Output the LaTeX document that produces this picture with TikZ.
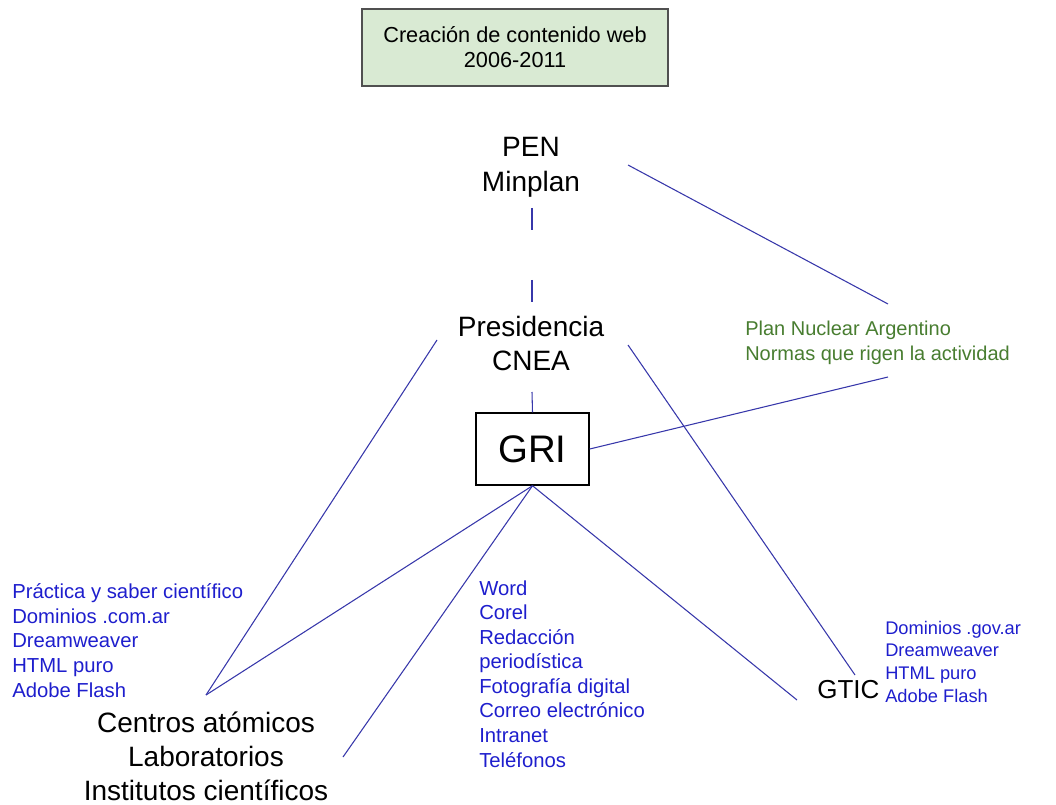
\documentclass[tikz,border=0pt]{standalone}
\usepackage{fontspec}
\setmainfont{Liberation Sans}
\definecolor{linkblue}{RGB}{55,55,170}
\definecolor{itemblue}{RGB}{30,30,205}
\definecolor{normgreen}{RGB}{72,125,48}
\definecolor{titlefill}{RGB}{217,234,211}
\definecolor{titledraw}{RGB}{80,80,80}
\newcommand{\fsz}[2]{\fontsize{#1}{#2}\selectfont}

\begin{document}
\begin{tikzpicture}[x=0.75pt,y=-0.75pt,
    link/.style={draw=linkblue,line width=0.8pt},
    actor/.style={inner sep=0pt,align=center,font=\fsz{21}{25.5}},
    tools/.style={inner sep=0pt,align=left,text=itemblue,font=\fsz{15.2}{18.4}}]
    \useasboundingbox (0,0) rectangle (1056,805);
    \node[draw=titledraw,fill=titlefill,line width=0.8pt,minimum width=229.5pt,minimum height=57.75pt,align=center,font=\fsz{16.3}{18.75}] (titulo) at (515,47.5) {Creación de contenido web\\2006-2011};
    \node[actor,anchor=base,font=\fsz{21}{26.25}] (pen) at (531,192) {PEN\\Minplan};
    \node[actor,anchor=base,font=\fsz{21}{24.75}] (pres) at (531,370) {Presidencia\\CNEA};
    \node[draw,line width=1.1pt,minimum width=84.75pt,minimum height=54pt,font=\fsz{28.8}{32}] (gri) at (532.5,449) {GRI};
    \node[inner sep=0pt,anchor=base west,align=left,text=normgreen,font=\fsz{15}{18.75}] (plan) at (745,360) {Plan Nuclear Argentino\\Normas que rigen la actividad};
    \node[tools,anchor=base west] (saber) at (12,697) {Práctica y saber científico\\Dominios .com.ar\\Dreamweaver\\HTML puro\\Adobe Flash};
    \node[actor,anchor=base] (centros) at (206,800) {Centros atómicos\\Laboratorios\\Institutos científicos};
    \node[tools,anchor=base west] (oficina) at (479,767) {Word\\Corel\\Redacción\\periodística\\Fotografía digital\\Correo electrónico\\Intranet\\Teléfonos};
    \node[actor,anchor=base west,font=\fsz{19.5}{24}] (gtic) at (817,698) {GTIC};
    \node[tools,anchor=base west,font=\fsz{13.7}{16.9}] (web) at (885,702) {Dominios .gov.ar\\Dreamweaver\\HTML puro\\Adobe Flash};
    % free ends of the connectors
    \coordinate (penA) at (532,208);
    \coordinate (presA) at (532,302);
    \coordinate (presB) at (532,392);
    \coordinate (penR) at (628,165);
    \coordinate (planT) at (888,304);
    \coordinate (planB) at (888,377);
    \coordinate (presL) at (437,340);
    \coordinate (presR) at (628,345);
    \coordinate (centrosT) at (206,695);
    \coordinate (instT) at (343,757);
    \coordinate (gticL) at (797,700);
    \coordinate (gticT) at (855,675);
    \draw[link,dash pattern=on 16.5pt off 37.5pt] (penA) -- (presA);
    \draw[link] (presB) -- (gri.north);
    \draw[link] (penR) -- (planT);
    \draw[link] (gri.east) -- (planB);
    \draw[link] (presL) -- (centrosT);
    \draw[link] (gri.south) -- (centrosT);
    \draw[link] (gri.south) -- (instT);
    \draw[link] (gri.south) -- (gticL);
    \draw[link] (presR) -- (gticT);
\end{tikzpicture}
\end{document}
